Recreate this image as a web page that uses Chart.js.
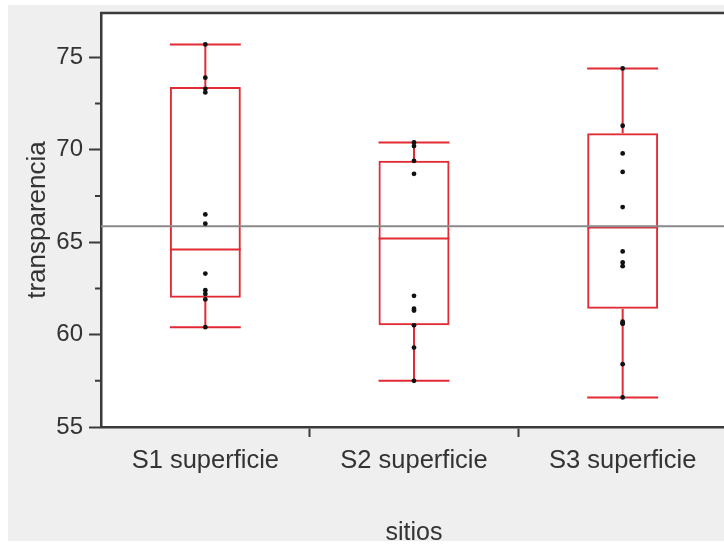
<!DOCTYPE html>
<html>
<head>
<meta charset="utf-8">
<script src="https://cdn.jsdelivr.net/npm/chart.js@4/dist/chart.umd.min.js"></script>
<style>
  html, body { margin: 0; padding: 0; background: #fff; overflow: hidden; }
  #wrap { width: 724px; height: 544px; overflow: hidden; position: relative; }
  canvas { display: block; }
</style>
</head>
<body>
<div id="wrap"><canvas id="c" width="740" height="544"></canvas></div>
<script>
// Sites and their transparency summaries
const categories = ['S1 superficie', 'S2 superficie', 'S3 superficie'];
const whiskerLow  = [60.4, 57.5, 56.6];
const q1          = [62.0, 60.5, 61.4];
const median      = [64.6, 65.2, 65.8];
const q3          = [73.4, 69.4, 70.9];
const whiskerHigh = [75.7, 70.4, 74.4];
const grandMean = 65.86;

// Individual observations per site
const s1Points = [75.7, 73.9, 73.3, 73.1, 66.5, 66.0, 63.3, 62.4, 62.2, 61.9, 60.4];
const s2Points = [70.4, 70.2, 69.4, 68.7, 62.1, 61.4, 61.3, 60.5, 59.3, 57.5];
const s3Points = [74.4, 71.3, 69.8, 68.8, 66.9, 64.5, 63.9, 63.7, 60.7, 60.6, 60.6, 58.4, 56.6];

const yMajorTicks = [55, 60, 65, 70, 75];
const yMinorTicks = [57.5, 62.5, 67.5, 72.5];

const FONT = '"Liberation Sans", Arial, sans-serif';
const RED = 'rgb(226, 42, 52)';
const AXIS = '#3a3a3a';
const TEXT = '#333333';

const pointSets = [s1Points, s2Points, s3Points];

const boxParts = {
  id: 'boxParts',
  beforeDraw(chart) {
    const { ctx, chartArea: a } = chart;
    ctx.save();
    ctx.fillStyle = '#ffffff';
    ctx.fillRect(0, 0, chart.width, chart.height);
    ctx.fillStyle = '#efefef';
    ctx.fillRect(8, 5, chart.width - 8, chart.height - 8);
    ctx.fillStyle = '#ffffff';
    ctx.fillRect(a.left, a.top, a.right - a.left, a.bottom - a.top);
    ctx.restore();
  },
  afterDatasetDraw(chart, args) {
    if (args.index !== 0) return;
    const { ctx, scales: { y } } = chart;
    const meta = chart.getDatasetMeta(0);
    ctx.save();
    ctx.strokeStyle = RED;
    ctx.lineWidth = 2;
    meta.data.forEach((el, i) => {
      const x = el.x, half = el.width / 2;
      const yMed = y.getPixelForValue(median[i]);
      const yLo = y.getPixelForValue(whiskerLow[i]);
      const yHi = y.getPixelForValue(whiskerHigh[i]);
      const yQ1 = y.getPixelForValue(q1[i]);
      const yQ3 = y.getPixelForValue(q3[i]);
      ctx.beginPath();
      // median
      ctx.moveTo(x - half, yMed); ctx.lineTo(x + half, yMed);
      // whiskers
      ctx.moveTo(x, yQ3); ctx.lineTo(x, yHi);
      ctx.moveTo(x, yQ1); ctx.lineTo(x, yLo);
      // caps
      ctx.moveTo(x - half, yHi); ctx.lineTo(x + half, yHi);
      ctx.moveTo(x - half, yLo); ctx.lineTo(x + half, yLo);
      ctx.stroke();
    });
    // grand mean reference line
    const a = chart.chartArea;
    const yM = y.getPixelForValue(grandMean);
    ctx.strokeStyle = '#8a8a8a';
    ctx.lineWidth = 2;
    ctx.beginPath();
    ctx.moveTo(a.left, yM); ctx.lineTo(a.right, yM);
    ctx.stroke();
    ctx.restore();
  },
  afterDraw(chart) {
    const { ctx, chartArea: a, scales: { y } } = chart;
    ctx.save();
    ctx.strokeStyle = AXIS;
    // top frame line
    ctx.lineWidth = 2.5;
    ctx.beginPath();
    ctx.moveTo(a.left - 1, a.top); ctx.lineTo(a.right, a.top);
    ctx.stroke();
    // minor ticks on the value axis
    ctx.lineWidth = 2;
    ctx.beginPath();
    yMinorTicks.forEach(v => {
      const py = y.getPixelForValue(v);
      ctx.moveTo(a.left - 6, py); ctx.lineTo(a.left, py);
    });
    ctx.stroke();
    ctx.restore();
  }
};

new Chart(document.getElementById('c'), {
  type: 'bar',
  data: {
    labels: categories,
    datasets: [
      {
        type: 'bar',
        data: categories.map((c, i) => [q1[i], q3[i]]),
        backgroundColor: 'rgba(255,255,255,0)',
        borderColor: RED,
        borderWidth: 2,
        borderSkipped: false,
        barPercentage: 0.34,
        categoryPercentage: 1,
        order: 3
      },
      ...pointSets.map((pts, i) => ({
        type: 'scatter',
        data: pts.map(v => ({ x: categories[i], y: v })),
        pointRadius: 2.4,
        pointBackgroundColor: '#111',
        pointBorderWidth: 0,
        order: 1
      }))
    ]
  },
  options: {
    responsive: false,
    animation: false,
    layout: { padding: { top: 13, right: 13, left: 0, bottom: 0 } },
    plugins: { legend: { display: false }, tooltip: { enabled: false } },
    scales: {
      x: {
        type: 'category',
        offset: true,
        grid: {
          offset: true,
          drawOnChartArea: false,
          drawTicks: true,
          tickLength: 10,
          tickWidth: 2,
          tickColor: (ctx) => ctx.index === 0 ? 'rgba(0,0,0,0)' : AXIS
        },
        border: { display: true, color: AXIS, width: 2.5 },
        ticks: { color: TEXT, font: { family: FONT, size: 25.5 }, padding: 9, maxRotation: 0, autoSkip: false },
        title: { display: true, text: 'sitios', color: TEXT, font: { family: FONT, size: 25 }, padding: { top: 0, bottom: -4 } },
        afterFit(scale) { scale.height = 117; scale.paddingLeft = 0; scale.paddingRight = 0; }
      },
      y: {
        min: 55,
        max: 77.4,
        ticks: {
          stepSize: 2.5,
          color: TEXT,
          font: { family: FONT, size: 24 },
          padding: 6,
          callback: (v) => yMajorTicks.includes(v) ? String(v) : ''
        },
        grid: {
          drawOnChartArea: false,
          drawTicks: true,
          tickLength: 12,
          tickWidth: 2,
          tickColor: (ctx) => (ctx.tick && yMajorTicks.includes(ctx.tick.value)) ? AXIS : 'rgba(0,0,0,0)'
        },
        border: { display: true, color: AXIS, width: 2.5 },
        title: { display: true, text: 'transparencia', color: TEXT, font: { family: FONT, size: 26 }, padding: { top: 22, bottom: 0 } },
        afterFit(scale) { scale.width = 101; scale.paddingTop = 0; scale.paddingBottom = 0; }
      }
    }
  },
  plugins: [boxParts]
});
</script>
</body>
</html>
